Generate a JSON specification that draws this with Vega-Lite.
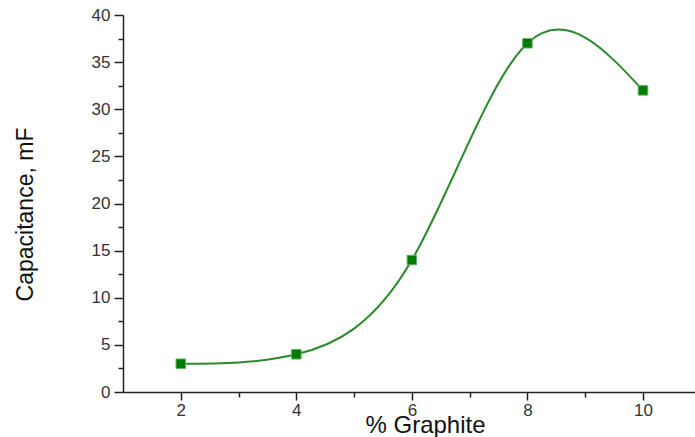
{
  "$schema": "https://vega.github.io/schema/vega-lite/v6.json",
  "width": 572,
  "height": 377,
  "autosize": {"type": "none"},
  "padding": {"left": 123, "top": 15, "right": 0, "bottom": 45},
  "background": "white",
  "config": {
    "view": {"stroke": null},
    "font": "Liberation Sans"
  },
  "data": {
    "values": [
      {"graphite": 2, "capacitance": 3},
      {"graphite": 4, "capacitance": 4},
      {"graphite": 6, "capacitance": 14},
      {"graphite": 8, "capacitance": 37},
      {"graphite": 10, "capacitance": 32}
    ]
  },
  "encoding": {
    "x": {
      "field": "graphite",
      "type": "quantitative",
      "scale": {"domain": [1, 10.9], "nice": false, "zero": false},
      "axis": {
        "title": "% Graphite",
        "values": [2, 3, 4, 5, 6, 7, 8, 9, 10],
        "labelExpr": "datum.value % 2 === 0 ? datum.label : ''",
        "tickSize": {"condition": {"test": "datum.value % 2 === 0", "value": 8}, "value": 5},
        "grid": false,
        "domainColor": "#222",
        "domainWidth": 1.5,
        "tickColor": "#222",
        "tickWidth": 1.5,
        "labelFontSize": 17,
        "labelFont": "Liberation Sans",
        "labelColor": "#333",
        "labelPadding": 2,
        "titleFont": "Liberation Sans",
        "titleFontSize": 24,
        "titleFontWeight": "normal",
        "titleColor": "#111",
        "titleX": 302,
        "titleY": 40,
        "titleAlign": "center",
        "titleAnchor": null,
        "titleBaseline": "alphabetic"
      }
    },
    "y": {
      "field": "capacitance",
      "type": "quantitative",
      "scale": {"domain": [0, 40], "nice": false},
      "axis": {
        "title": "Capacitance, mF",
        "values": [0, 2.5, 5, 7.5, 10, 12.5, 15, 17.5, 20, 22.5, 25, 27.5, 30, 32.5, 35, 37.5, 40],
        "labelExpr": "datum.value % 5 === 0 ? datum.label : ''",
        "tickSize": {"condition": {"test": "datum.value % 5 === 0", "value": 9}, "value": 5},
        "grid": false,
        "domainColor": "#222",
        "domainWidth": 1.5,
        "tickColor": "#222",
        "tickWidth": 1.5,
        "labelFontSize": 17,
        "labelFont": "Liberation Sans",
        "labelColor": "#333",
        "labelPadding": 4,
        "titleFont": "Liberation Sans",
        "titleFontSize": 23,
        "titleFontWeight": "normal",
        "titleColor": "#111",
        "titleAngle": -90,
        "titleX": -98,
        "titleY": 199,
        "titleAlign": "center",
        "titleAnchor": null,
        "titleBaseline": "middle"
      }
    }
  },
  "layer": [
    {
      "mark": {"type": "line", "interpolate": "natural", "color": "#2a8a2a", "strokeWidth": 2}
    },
    {
      "mark": {"type": "point", "shape": "square", "filled": true, "size": 90, "color": "#007a00", "opacity": 1, "stroke": "#5fb05f", "strokeWidth": 1}
    }
  ]
}
